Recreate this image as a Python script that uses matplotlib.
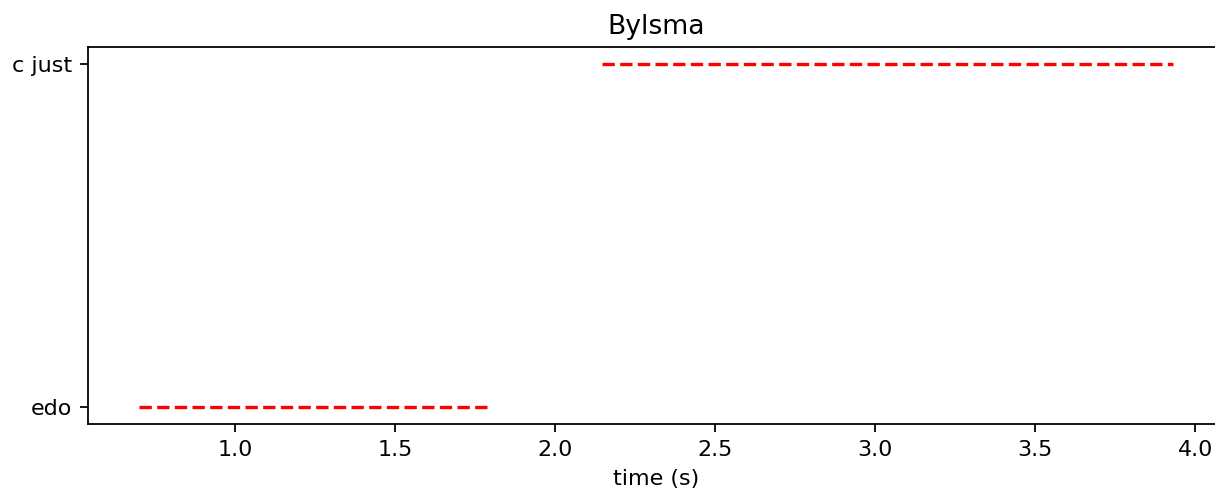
import matplotlib.pyplot as plt

# note labels and their onset / offset times (seconds)
labels = ["edo", "c just"]
starts = [0.70, 2.145]
ends = [1.79, 3.93]

fig = plt.figure(figsize=(1215 / 160, 494 / 160), dpi=160)
ax = fig.add_axes([87.5 / 1215, 69.7 / 494, 1137 / 1215, 377 / 494])

for lab, t0, t1 in zip(labels, starts, ends):
    ax.plot([t0, t1], [lab, lab], "r--")

ax.set_title("Bylsma")
ax.set_xlabel("time (s)")

fig.savefig("out.png", dpi=160)
